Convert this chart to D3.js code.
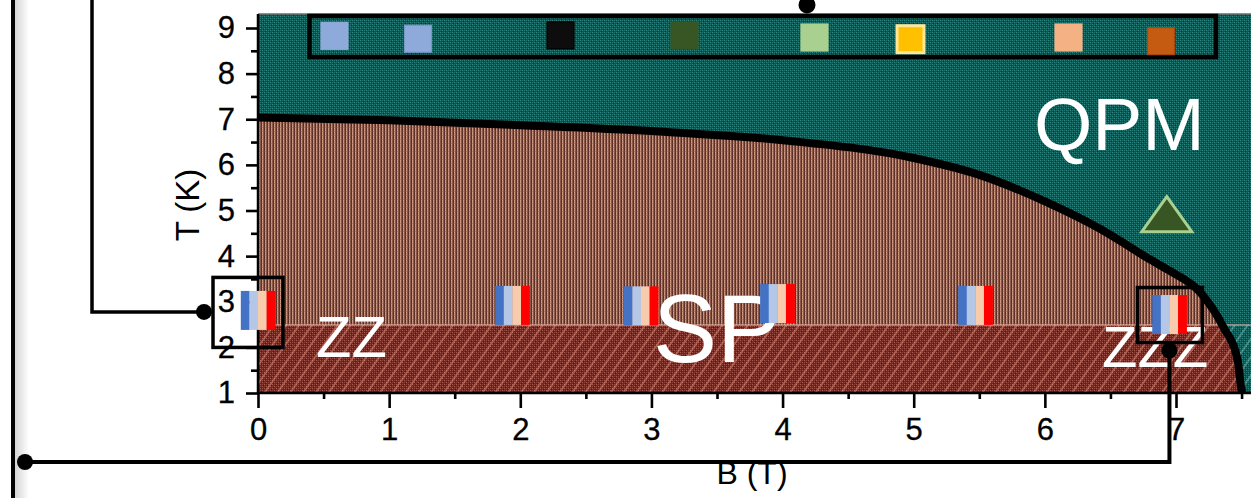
<!DOCTYPE html>
<html>
<head>
<meta charset="utf-8">
<script src="https://cdn.jsdelivr.net/npm/d3@7"></script>
<style>
  html, body { margin: 0; padding: 0; background: #fff; }
  svg { display: block; }
  text { font-family: "Liberation Sans", Arial, sans-serif; }
</style>
</head>
<body>
<svg id="chart" width="1255" height="498"></svg>
<script>
// ---- data ----------------------------------------------------------------
// Phase boundary T_c(B) between the ordered phase and the QPM phase
const boundaryB = [0, 1, 2, 3, 4, 5, 5.5, 6, 6.42, 6.8, 6.95, 7.19, 7.36, 7.47, 7.50, 7.51];
const boundaryT = [7.04, 6.98, 6.87, 6.74, 6.54, 6.15, 5.78, 5.2, 4.6, 3.93, 3.68, 3.19, 2.45, 1.72, 1.07, 1.0];
// Crossover separating the zig-zag (ZZ) region from the spin-flop region
const zzCrossoverT = 2.49;
// Measurement points (field, temperature) shown as colour strips
const markerB = [0, 1.94, 2.92, 3.96, 5.47, 6.95];
const markerT = [2.81, 2.92, 2.91, 2.96, 2.92, 2.72];
const stripColors = ["#4472c4", "#b4c7e7", "#f8cbad", "#ff0000"];
// Triangle point in the QPM phase
const triangleB = [6.93];
const triangleT = [4.8];
// Legend swatches
const legendFill   = ["#8eaadb", "#8eaadb", "#0d0d0d", "#375623", "#a9d08e", "#ffc000", "#f4b183", "#c55a11"];
const legendStroke = ["#8eaadb", "#7a96c8", "#000000", "#375623", "#a9d08e", "#ffe699", "#f4b183", "#a9480e"];
// Axis ticks
const xTicks = [0, 1, 2, 3, 4, 5, 6, 7];
const xMinor = [0.5, 1.5, 2.5, 3.5, 4.5, 5.5, 6.5, 7.5];
const yTicks = [1, 2, 3, 4, 5, 6, 7, 8, 9];
const yMinor = [1.5, 2.5, 3.5, 4.5, 5.5, 6.5, 7.5, 8.5];
const xTitle = "B (T)";
const yTitle = "T (K)";
const phaseNames = ["QPM", "SP", "ZZ", "ZZZ"];

// ---- layout --------------------------------------------------------------
const svg = d3.select("#chart");
const x = d3.scaleLinear().domain([0, 7]).range([258, 1176]);
const y = d3.scaleLinear().domain([1, 9]).range([393, 28]);
const plotLeft = x(0), plotRight = 1251, plotTop = 14, plotBottom = y(1);

const defs = svg.append("defs");

function pixelPattern(id, size, base, pixels) {
  const p = defs.append("pattern").attr("id", id)
    .attr("patternUnits", "userSpaceOnUse").attr("width", size[0]).attr("height", size[1]);
  p.append("rect").attr("width", size[0]).attr("height", size[1]).attr("fill", base);
  pixels.forEach(([px, py, c]) => p.append("rect").attr("x", px).attr("y", py)
    .attr("width", 1).attr("height", 1).attr("fill", c));
}
// textured fills for the phases
pixelPattern("tealTex", [4, 4], "#185250", [
  [0, 0, "#2f8782"], [2, 2, "#2f8782"], [2, 0, "#24706b"], [0, 2, "#24706b"],
  [1, 3, "#0e3634"], [3, 1, "#0e3634"]
]);
pixelPattern("brownTex", [3, 4], "#8a5849", [
  [0, 0, "#5a2e26"], [0, 1, "#5a2e26"], [0, 2, "#5a2e26"], [0, 3, "#6a3a30"],
  [1, 0, "#d39c84"], [1, 1, "#c48d76"], [1, 2, "#d39c84"], [1, 3, "#b07a66"]
]);
pixelPattern("redTex", [4, 4], "#6c2823", [
  [0, 0, "#a65a50"], [2, 2, "#a65a50"], [2, 0, "#8a423a"], [0, 2, "#8a423a"],
  [1, 3, "#4e1c18"], [3, 1, "#4e1c18"]
]);
function hatch(id, color, opacity) {
  const p = defs.append("pattern").attr("id", id)
    .attr("patternUnits", "userSpaceOnUse").attr("width", 10.5).attr("height", 20)
    .attr("patternTransform", "rotate(35)");
  p.append("line").attr("x1", 1).attr("y1", 0).attr("x2", 1).attr("y2", 20)
    .attr("stroke", color).attr("stroke-width", 1.3).attr("stroke-opacity", opacity);
}
hatch("hatchRed", "#f29a88", 0.65);
hatch("hatchTeal", "#a8d2cc", 0.55);

defs.append("clipPath").attr("id", "plotClip").append("rect")
  .attr("x", plotLeft).attr("y", plotTop)
  .attr("width", plotRight - plotLeft).attr("height", plotBottom - plotTop);

const boundary = boundaryB.map((b, i) => ({ B: b, T: boundaryT[i] }));
const area = d3.area().x(d => x(d.B)).y0(y(1)).y1(d => y(d.T)).curve(d3.curveMonotoneX);
const line = d3.line().x(d => x(d.B)).y(d => y(d.T)).curve(d3.curveMonotoneX);

defs.append("clipPath").attr("id", "phaseClip").append("path").attr("d", area(boundary));

// ---- left frame decoration ----------------------------------------------
const grad = defs.append("linearGradient").attr("id", "edgeShade");
grad.append("stop").attr("offset", "0%").attr("stop-color", "#d4d4d4");
grad.append("stop").attr("offset", "100%").attr("stop-color", "#ffffff");
svg.append("rect").attr("x", 15).attr("y", 0).attr("width", 14).attr("height", 498).attr("fill", "url(#edgeShade)");
svg.append("line").attr("x1", 13).attr("x2", 13).attr("y1", 0).attr("y2", 498)
  .attr("stroke", "#000").attr("stroke-width", 4);

// ---- plot body -----------------------------------------------------------
const plot = svg.append("g").attr("clip-path", "url(#plotClip)");
plot.append("rect").attr("x", plotLeft).attr("y", plotTop)
  .attr("width", plotRight - plotLeft).attr("height", plotBottom - plotTop).attr("fill", "url(#tealTex)");
plot.append("rect").attr("x", plotLeft).attr("y", y(zzCrossoverT))
  .attr("width", plotRight - plotLeft).attr("height", plotBottom - y(zzCrossoverT)).attr("fill", "url(#hatchTeal)");

plot.append("path").attr("d", area(boundary)).attr("fill", "url(#brownTex)");
const low = plot.append("g").attr("clip-path", "url(#phaseClip)");
low.append("rect").attr("x", plotLeft).attr("y", y(zzCrossoverT))
  .attr("width", plotRight - plotLeft).attr("height", plotBottom - y(zzCrossoverT)).attr("fill", "url(#redTex)");
low.append("rect").attr("x", plotLeft).attr("y", y(zzCrossoverT))
  .attr("width", plotRight - plotLeft).attr("height", plotBottom - y(zzCrossoverT)).attr("fill", "url(#hatchRed)");

plot.append("line").attr("x1", plotLeft).attr("x2", plotRight)
  .attr("y1", y(zzCrossoverT)).attr("y2", y(zzCrossoverT))
  .attr("stroke", "#e7b0a6").attr("stroke-width", 1.5).attr("stroke-opacity", 0.75);

plot.append("path").attr("d", line(boundary)).attr("fill", "none")
  .attr("stroke", "#000").attr("stroke-width", 8).attr("stroke-linejoin", "round");

// top frame line
svg.append("line").attr("x1", plotLeft).attr("x2", plotRight).attr("y1", plotTop).attr("y2", plotTop)
  .attr("stroke", "#6a6a6a").attr("stroke-width", 1.5);

// ---- axes ----------------------------------------------------------------
function styleAxis(g) {
  g.select(".domain").remove();
  g.selectAll(".tick line").attr("stroke", "#000").attr("stroke-width", 2.6);
  g.selectAll(".tick text").attr("fill", "#000").attr("stroke", "#000").attr("stroke-width", 0.3)
    .style("font-size", "31px")
    .style("font-family", '"Liberation Sans", Arial, sans-serif');
}
svg.append("g").attr("transform", `translate(0,${plotBottom})`)
  .call(d3.axisBottom(x).tickValues(xMinor).tickSize(6).tickFormat(""))
  .call(styleAxis);
svg.append("g").attr("transform", `translate(0,${plotBottom})`)
  .call(d3.axisBottom(x).tickValues(xTicks).tickSize(15).tickPadding(10).tickFormat(d3.format("d")))
  .call(styleAxis);
svg.append("g").attr("transform", `translate(${plotLeft},0)`)
  .call(d3.axisLeft(y).tickValues(yMinor).tickSize(7).tickFormat(""))
  .call(styleAxis);
svg.append("g").attr("transform", `translate(${plotLeft},0)`)
  .call(d3.axisLeft(y).tickValues(yTicks).tickSize(12).tickPadding(11).tickFormat(d3.format("d")))
  .call(styleAxis);

svg.append("line").attr("x1", plotLeft).attr("x2", plotLeft).attr("y1", plotTop).attr("y2", plotBottom + 1)
  .attr("stroke", "#000").attr("stroke-width", 2.5);
svg.append("line").attr("x1", plotLeft - 1).attr("x2", plotRight).attr("y1", plotBottom).attr("y2", plotBottom)
  .attr("stroke", "#000").attr("stroke-width", 2.5);

svg.append("text").attr("x", 752).attr("y", 484).attr("text-anchor", "middle")
  .style("font-size", "32px").attr("fill", "#000").text(xTitle);
svg.append("text").attr("transform", "translate(199,205) rotate(-90)").attr("text-anchor", "middle")
  .style("font-size", "33px").attr("fill", "#000").text(yTitle);

// ---- phase names -----------------------------------------------------------
const labelSpec = [
  { B: x.invert(1034), T: y.invert(150), size: 75 },
  { B: x.invert(653),  T: y.invert(362), size: 96 },
  { B: x.invert(316),  T: y.invert(357), size: 58 },
  { B: x.invert(1102), T: y.invert(367), size: 58 }
];
svg.selectAll("text.phase").data(phaseNames).join("text").attr("class", "phase")
  .attr("x", (d, i) => x(labelSpec[i].B)).attr("y", (d, i) => y(labelSpec[i].T))
  .style("font-size", (d, i) => labelSpec[i].size + "px").attr("fill", "#fff").text(d => d);

// ---- triangle point ------------------------------------------------------
svg.selectAll("path.tri").data(triangleB).join("path").attr("class", "tri")
  .attr("transform", (d, i) => `translate(${x(d)},${y(triangleT[i])})`)
  .attr("d", "M0,-23 L25,12 L-25,12 Z")
  .attr("fill", "#375623").attr("stroke", "#a9d08e").attr("stroke-width", 3).attr("stroke-linejoin", "miter");

// ---- colour-strip markers --------------------------------------------------
const stripW = 8.6, stripH = 39;
const markers = svg.selectAll("g.marker").data(markerB).join("g").attr("class", "marker")
  .attr("transform", (d, i) => `translate(${x(d) - stripW * 2},${y(markerT[i]) - stripH / 2})`);
markers.selectAll("rect").data(stripColors).join("rect")
  .attr("x", (c, j) => j * stripW).attr("y", 0)
  .attr("width", stripW + 0.3).attr("height", stripH).attr("fill", c => c);

// ---- legend strip ----------------------------------------------------------
svg.append("rect").attr("x", 309.5).attr("y", 16).attr("width", 906.5).attr("height", 41)
  .attr("fill", "none").attr("stroke", "#000").attr("stroke-width", 4.5);
const legendX = [334.5, 418, 560.5, 684.5, 814.5, 910.5, 1068.5, 1161];
const legendY = [35.8, 38.7, 35.4, 35.4, 37.5, 39.2, 37.5, 41.2];
svg.selectAll("rect.swatch").data(legendFill).join("rect").attr("class", "swatch")
  .attr("x", (d, i) => legendX[i] - 13.5).attr("y", (d, i) => legendY[i] - 13.5)
  .attr("width", 27).attr("height", 27).attr("fill", d => d)
  .attr("stroke", (d, i) => legendStroke[i]).attr("stroke-width", (d, i) => i === 5 ? 3 : 1.2);

// ---- call-out connectors ---------------------------------------------------
const ink = { stroke: "#000", "stroke-width": 3.5, fill: "none" };
function applyInk(sel) { Object.entries(ink).forEach(([k, v]) => sel.attr(k, v)); return sel; }

// boxes around the end-point markers
const firstM = [x(markerB[0]), y(markerT[0])];
const lastM = [x(markerB[5]), y(markerT[5])];
applyInk(svg.append("rect").attr("x", firstM[0] - 45).attr("y", firstM[1] - 33).attr("width", 70).attr("height", 70));
applyInk(svg.append("rect").attr("x", lastM[0] - 32).attr("y", lastM[1] - 27).attr("width", 65).attr("height", 55));

// left connector
applyInk(svg.append("path").attr("d", `M92,0 V${firstM[1] + 1.5} H${firstM[0] - 54}`));
svg.append("circle").attr("cx", firstM[0] - 54).attr("cy", firstM[1] + 1.5).attr("r", 8).attr("fill", "#000");

// bottom connector
applyInk(svg.append("path").attr("d", `M25,462 H${lastM[0]} V${lastM[1] + 36}`)).attr("stroke-width", 4);
svg.append("circle").attr("cx", 25).attr("cy", 462).attr("r", 8).attr("fill", "#000");
svg.append("circle").attr("cx", lastM[0]).attr("cy", lastM[1] + 36).attr("r", 8).attr("fill", "#000");

// top connector end
svg.append("circle").attr("cx", 807).attr("cy", 5).attr("r", 8.5).attr("fill", "#000");
</script>
</body>
</html>
